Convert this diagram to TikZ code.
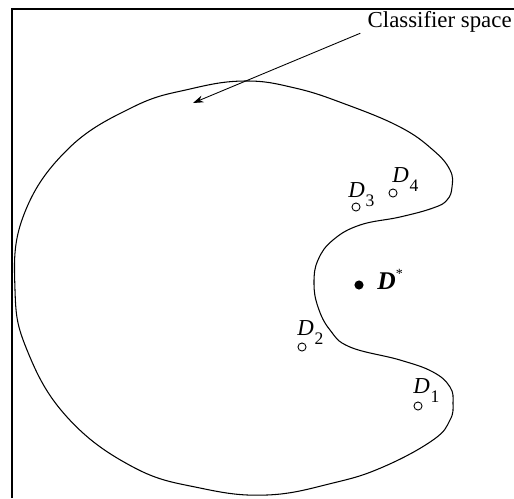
\documentclass[tikz,border=0pt]{standalone}
\usepackage{fontspec}
\setmainfont{Liberation Serif}
\usetikzlibrary{arrows.meta,calc}
\newcommand{\dlab}[1]{\textit{D}\kern0.5pt\raisebox{-5.5pt}{\fontsize{10}{11}\selectfont #1}}

\begin{document}
\begin{tikzpicture}[x=0.02cm,y=-0.02cm,>={Stealth[length=6pt,width=4pt]},
  pt/.style={circle,draw,line width=0.5pt,inner sep=0pt,minimum size=4.6pt},
  lbl/.style={anchor=base west,inner sep=0pt,font=\fontsize{13}{15}\selectfont}]
\useasboundingbox (0,0) rectangle (514,498);
\draw[line width=1.1pt] (12,498) -- (12,9) -- (514,9);

% classifier space
\draw[line width=0.6pt] plot[smooth cycle,tension=0.7] coordinates {
  (245,81) (295,88) (345,104) (400,127) (433,150) (450,170) (452,187)
  (447,200) (433,208) (400,217) (360,225) (333,240) (318,260) (314,283)
  (318,307) (330,330) (350,347) (400,360) (433,372) (450,387) (453,403)
  (450,420) (433,440) (383,467) (333,483) (267,495) (200,488) (133,467)
  (67,417) (27,350) (15,290) (23,217) (67,150) (133,107) (190,89)};

\node[lbl,anchor=base east] (space) at (512,27) {Classifier space};
\coordinate (tip) at (193,103);
\draw[->,line width=0.5pt] ($(space.south west)+(-7,1)$) -- (tip);

% designs
\node[pt] (d1) at (418,406) {};
\node[pt] (d2) at (302,347) {};
\node[pt] (d3) at (356,207) {};
\node[pt] (d4) at (393,193) {};
\node[lbl] (l1) at ($(d1)+(-5,-13)$) {\dlab{1}};
\node[lbl] (l2) at ($(d2)+(-5,-12)$) {\dlab{2}};
\node[lbl] (l3) at ($(d3)+(-8,-10)$) {\dlab{3}};
\node[lbl] (l4) at ($(d4)+(-1,-11)$) {\dlab{4}};

\node[circle,fill,inner sep=0pt,minimum size=5.2pt] (ds) at (359,285) {};
\node[lbl,font=\fontsize{14.5}{16}\selectfont] (lds) at ($(ds)+(18,4)$)
  {\textbf{\textit{D}}\raisebox{6pt}{\fontsize{8}{9}\selectfont *}};
\end{tikzpicture}
\end{document}
